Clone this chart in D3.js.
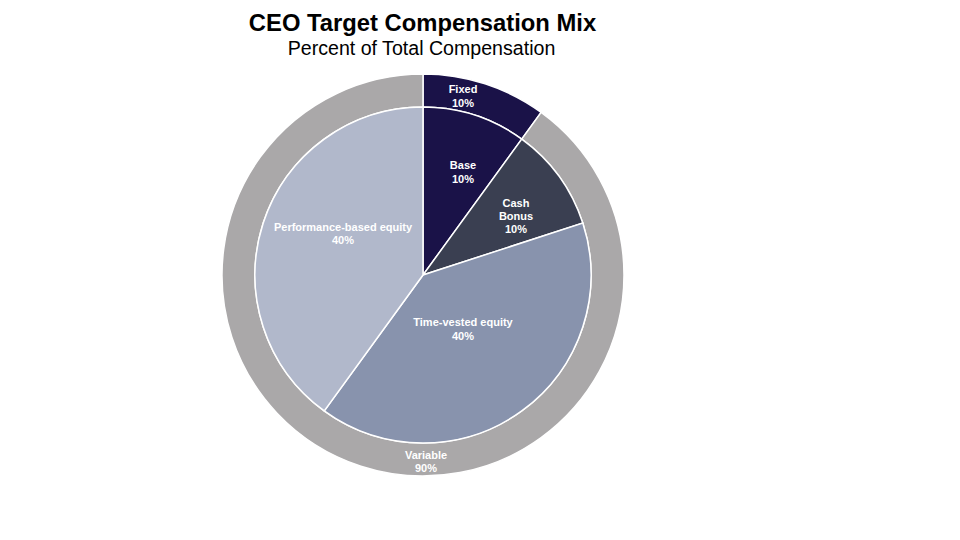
<!DOCTYPE html>
<html>
<head>
<meta charset="utf-8">
<script src="https://cdn.jsdelivr.net/npm/d3@7"></script>
<style>
  html, body { margin: 0; padding: 0; background: #fff; }
  svg { display: block; }
</style>
</head>
<body>
<div id="chart"></div>
<script>
// CEO target pay mix: inner pie = components, outer ring = fixed vs variable
const innerLabels = [["Base", "10%"], ["Cash", "Bonus", "10%"], ["Time-vested equity", "40%"], ["Performance-based equity", "40%"]];
const innerValues = [10, 10, 40, 40];
const innerColors = ["#1a1248", "#3a3f51", "#8893ad", "#b1b8cb"];

const outerLabels = [["Fixed", "10%"], ["Variable", "90%"]];
const outerValues = [10, 90];
const outerColors = ["#1a1248", "#aaa8a9"];

// label placement (offset from pie centre, px) — layout only
const innerLabelPos = [[40, -103], [93, -59], [40, 54], [-80, -41.5]];
const outerLabelPos = [[40, -179], [3, 186.5]];

const W = 960, H = 540, CX = 423, CY = 275, R_IN = 168, R_OUT = 201;

const svg = d3.select("#chart").append("svg")
  .attr("width", W).attr("height", H)
  .attr("viewBox", `0 0 ${W} ${H}`);

svg.append("text").attr("x", 422.5).attr("y", 31)
  .attr("text-anchor", "middle")
  .attr("style", "font:bold 23.8px 'Liberation Sans', Arial, sans-serif;fill:#000")
  .text("CEO Target Compensation Mix");
svg.append("text").attr("x", 421.5).attr("y", 55)
  .attr("text-anchor", "middle")
  .attr("style", "font:19.6px 'Liberation Sans', Arial, sans-serif;fill:#000")
  .text("Percent of Total Compensation");

const g = svg.append("g").attr("transform", `translate(${CX},${CY})`);
const pie = d3.pie().sort(null).value(d => d);

// outer ring
const outerArc = d3.arc().innerRadius(R_IN).outerRadius(R_OUT);
g.selectAll("path.outer").data(pie(outerValues)).join("path")
  .attr("class", "outer")
  .attr("d", outerArc)
  .attr("fill", (d, i) => outerColors[i])
  .attr("stroke", "#fff").attr("stroke-width", 1.5);

// inner pie
const innerArc = d3.arc().innerRadius(0).outerRadius(R_IN);
g.selectAll("path.inner").data(pie(innerValues)).join("path")
  .attr("class", "inner")
  .attr("d", innerArc)
  .attr("fill", (d, i) => innerColors[i])
  .attr("stroke", "#fff").attr("stroke-width", 1.5);

// labels
const LH = 13.3;
function addLabel(lines, pos) {
  const t = g.append("text")
    .attr("text-anchor", "middle")
    .attr("style", "font:bold 11px 'Liberation Sans', Arial, sans-serif;fill:#fff");
  const y0 = pos[1] - (lines.length - 1) * LH / 2;
  lines.forEach((s, k) => {
    t.append("tspan").attr("x", pos[0]).attr("y", y0 + k * LH)
      .attr("dominant-baseline", "central").text(s);
  });
}
innerLabels.forEach((l, i) => addLabel(l, innerLabelPos[i]));
outerLabels.forEach((l, i) => addLabel(l, outerLabelPos[i]));
</script>
</body>
</html>
